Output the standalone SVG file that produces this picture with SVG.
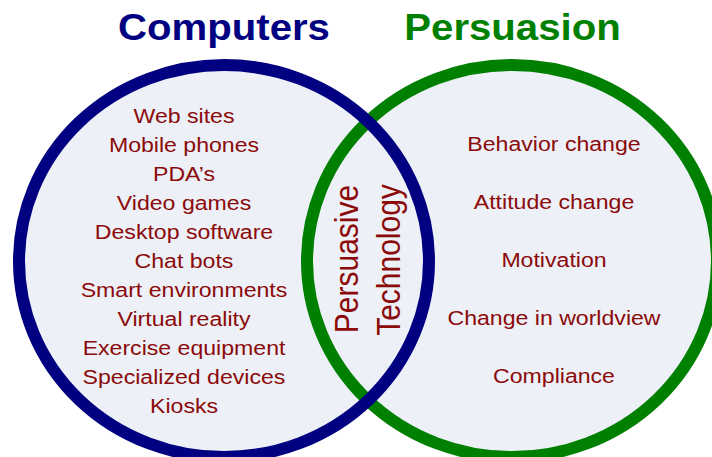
<svg xmlns="http://www.w3.org/2000/svg" width="712" height="457" viewBox="0 0 712 457">
<style>
.fill{fill:#EDF0F7;stroke:none}
.ring{fill:none;stroke-width:12}
.title{font-family:"Liberation Sans",Arial,sans-serif;font-weight:bold;font-size:36.5px;text-anchor:middle}
.item{font-family:"Liberation Sans",Arial,sans-serif;font-size:21px;fill:#8B0A0A;text-anchor:middle}
.mid{font-family:"Liberation Sans",Arial,sans-serif;font-size:30px;fill:#8B0A0A;text-anchor:middle}
</style>
<rect width="712" height="457" fill="#FFFFFF"/>
<g id="fills">
<ellipse class="fill" cx="224" cy="261" rx="205" ry="196"/>
<ellipse class="fill" cx="512" cy="261" rx="205" ry="196"/>
</g>
<g id="persuasion">
<ellipse class="ring" cx="512" cy="261" rx="205" ry="196" stroke="#008000"/>
<text class="title" fill="#008000" transform="translate(512.5,40) scale(1.1,1)">Persuasion</text>
<g class="item">
<text class="item" transform="translate(554,151) scale(1.1,1)">Behavior change</text>
<text class="item" transform="translate(554,209) scale(1.1,1)">Attitude change</text>
<text class="item" transform="translate(554,267) scale(1.1,1)">Motivation</text>
<text class="item" transform="translate(554,325) scale(1.1,1)">Change in worldview</text>
<text class="item" transform="translate(554,383) scale(1.1,1)">Compliance</text>
</g>
</g>
<g id="computers">
<ellipse class="ring" cx="224" cy="261" rx="205" ry="196" stroke="#000080"/>
<text class="title" fill="#000080" transform="translate(224,40) scale(1.1,1)">Computers</text>
<g>
<text class="item" transform="translate(184,122.7) scale(1.1,1)">Web sites</text>
<text class="item" transform="translate(184,151.7) scale(1.1,1)">Mobile phones</text>
<text class="item" transform="translate(184,180.8) scale(1.1,1)">PDA’s</text>
<text class="item" transform="translate(184,209.8) scale(1.1,1)">Video games</text>
<text class="item" transform="translate(184,238.8) scale(1.1,1)">Desktop software</text>
<text class="item" transform="translate(184,267.8) scale(1.1,1)">Chat bots</text>
<text class="item" transform="translate(184,296.9) scale(1.1,1)">Smart environments</text>
<text class="item" transform="translate(184,325.9) scale(1.1,1)">Virtual reality</text>
<text class="item" transform="translate(184,354.9) scale(1.1,1)">Exercise equipment</text>
<text class="item" transform="translate(184,383.9) scale(1.1,1)">Specialized devices</text>
<text class="item" transform="translate(184,413) scale(1.1,1)">Kiosks</text>
</g>
</g>
<g id="persuasive-technology">
<text class="mid" transform="translate(358,259) scale(1.1,1) rotate(-90)">Persuasive</text>
<text class="mid" transform="translate(400,260) scale(1.1,1) rotate(-90)">Technology</text>
</g>
</svg>
